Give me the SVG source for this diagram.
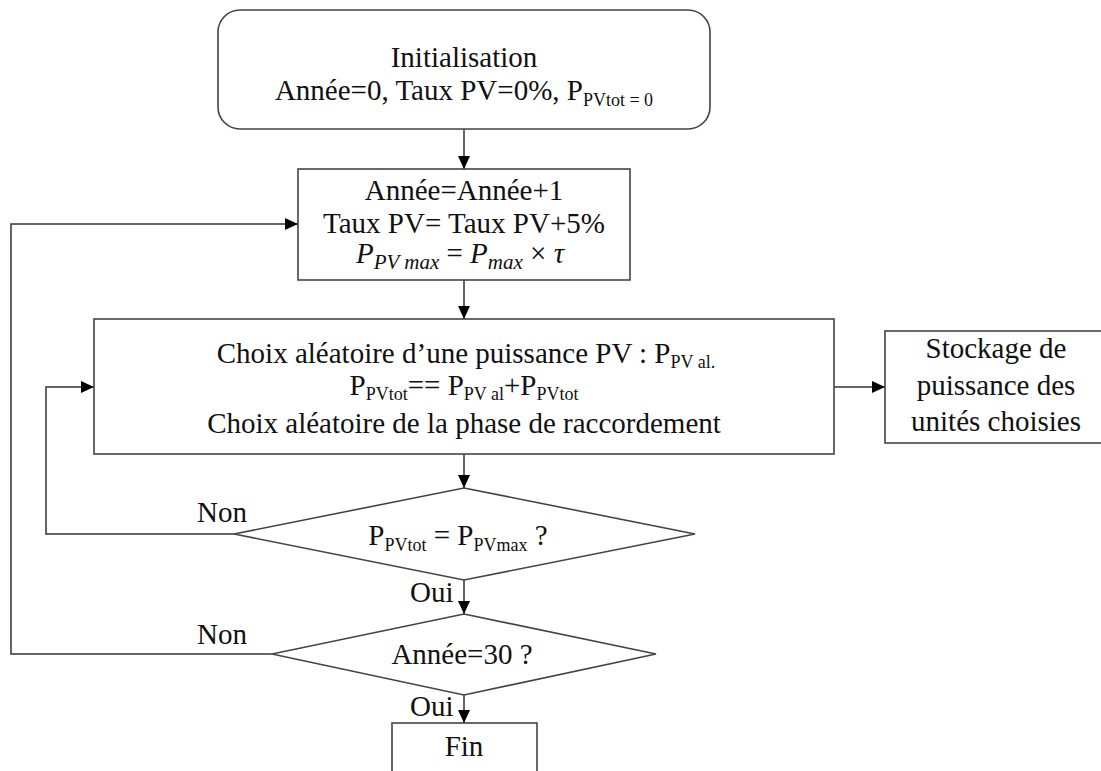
<svg xmlns="http://www.w3.org/2000/svg" width="1101" height="771" viewBox="0 0 1101 771">
<defs>
<marker id="arr" markerWidth="13" markerHeight="12" refX="13" refY="6" orient="auto" markerUnits="userSpaceOnUse"><path d="M0,0 L13,6 L0,12 Z" fill="#000"/></marker>
<style>
.box{fill:#fff;stroke:#444;stroke-width:1.6}
.ln{fill:none;stroke:#333;stroke-width:1.5}
text{font-family:"Liberation Serif","Times New Roman",serif;font-size:29px;fill:#111}
.c{text-anchor:middle}
.sub{font-size:18px}
.it{font-style:italic}
</style>
</defs>
<rect width="1101" height="771" fill="#fff"/>
<g id="connectors">
<path class="ln" d="M464,129 V169" marker-end="url(#arr)"/>
<path class="ln" d="M464,280 V319" marker-end="url(#arr)"/>
<path class="ln" d="M834,387 H885" marker-end="url(#arr)"/>
<path class="ln" d="M464,454 V488" marker-end="url(#arr)"/>
<path class="ln" d="M234,534 H46 V387 H94" marker-end="url(#arr)"/>
<path class="ln" d="M464,580 V614" marker-end="url(#arr)"/>
<path class="ln" d="M272,654 H11 V224 H298" marker-end="url(#arr)"/>
<path class="ln" d="M464,695 V723" marker-end="url(#arr)"/>
<text x="197" y="522">Non</text>
<text x="410" y="602">Oui</text>
<text x="197" y="644">Non</text>
<text x="410" y="716">Oui</text>
</g>
<g id="init">
<rect class="box" x="218" y="10" width="492" height="119" rx="22"/>
<text class="c" x="464" y="67">Initialisation</text>
<text class="c" x="464" y="100">Année=0, Taux PV=0%, P<tspan class="sub" dy="6">PVtot = 0</tspan></text>
</g>
<g id="update">
<rect class="box" x="298" y="169" width="332" height="111"/>
<text class="c" x="464" y="200">Année=Année+1</text>
<text class="c" x="464" y="233">Taux PV= Taux PV+5%</text>
<text class="c" x="460" y="263"><tspan class="it">P</tspan><tspan class="it" font-size="21" dy="6">PV max</tspan><tspan dy="-6"> = </tspan><tspan class="it">P</tspan><tspan class="it" font-size="21" dy="6">max</tspan><tspan dy="-6"> × </tspan><tspan class="it">τ</tspan></text>
</g>
<g id="choice">
<rect class="box" x="94" y="319" width="740" height="135"/>
<text class="c" x="466" y="363">Choix aléatoire d’une puissance PV : P<tspan class="sub" dy="5">PV al.</tspan></text>
<text class="c" x="464" y="395">P<tspan class="sub" dy="5">PVtot</tspan><tspan dy="-5">== P</tspan><tspan class="sub" dy="5">PV al</tspan><tspan dy="-5">+P</tspan><tspan class="sub" dy="5">PVtot</tspan></text>
<text class="c" x="464" y="433">Choix aléatoire de la phase de raccordement</text>
</g>
<g id="storage">
<rect class="box" x="885" y="331" width="222" height="112"/>
<text class="c" x="996" y="358">Stockage de</text>
<text class="c" x="996" y="395">puissance des</text>
<text class="c" x="996" y="431">unités choisies</text>
</g>
<g id="test1">
<polygon class="box" points="464,488 695,534 464,580 234,534"/>
<text class="c" x="458" y="545">P<tspan class="sub" dy="6">PVtot</tspan><tspan dy="-6"> = P</tspan><tspan class="sub" dy="6">PVmax</tspan><tspan dy="-6"> ?</tspan></text>
</g>
<g id="test2">
<polygon class="box" points="464,614 656,654 464,695 272,654"/>
<text class="c" x="462" y="664">Année=30 ?</text>
</g>
<g id="end">
<rect class="box" x="392" y="723" width="145" height="60"/>
<text class="c" x="464" y="756">Fin</text>
</g>
</svg>
